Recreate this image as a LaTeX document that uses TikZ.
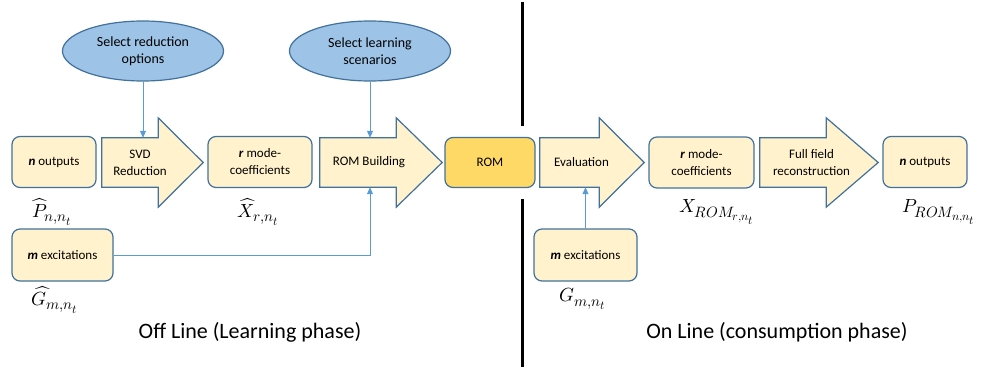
\documentclass[tikz,border=0pt]{standalone}
\usepackage{fontspec}
\usepackage{unicode-math}
\setmainfont{Carlito}
\setmathfont{Latin Modern Math}
\DeclareMathSizes{19}{19}{15}{12}
\usetikzlibrary{arrows.meta, calc, backgrounds, shapes.geometric}
\definecolor{boxfill}{RGB}{255,242,204}
\definecolor{boxline}{RGB}{65,113,156}
\definecolor{optfill}{RGB}{157,195,230}
\definecolor{romfill}{RGB}{255,217,102}
\definecolor{linkblue}{RGB}{91,155,213}
\newcommand{\bi}[1]{\textbf{\textit{#1}}}

\begin{document}
\begin{tikzpicture}[
    x=1pt, y=1pt,
    box/.style={draw=boxline, fill=boxfill, rounded corners=8pt, line width=1.2pt,
                minimum height=51pt, align=center, inner sep=1pt,
                font=\fontsize{13}{17}\selectfont},
    stage/.style={minimum height=49pt, align=center, inner sep=1pt,
                  font=\fontsize{13}{17}\selectfont},
    blockarrow/.style={draw=boxline, fill=boxfill, line width=1.2pt, line join=miter},
    option/.style={ellipse, draw=boxline, fill=optfill, line width=1.2pt,
                   minimum width=161pt, minimum height=60pt, align=center,
                   inner sep=0pt, font=\fontsize{14}{17}\selectfont},
    link/.style={-{Triangle[length=7pt, width=6pt]}, linkblue, line width=0.8pt},
    sym/.style={inner sep=0pt, font=\fontsize{19}{22}\selectfont},
    phase/.style={font=\fontsize{22}{26}\selectfont},
  ]
    \useasboundingbox (0,0) rectangle (983,368);

    % options
    \node[option] (selred) at (143,317) {Select reduction\\options};
    \node[option] (sellearn) at (370,317) {Select learning\\scenarios};

    % off line chain
    \node[box, minimum width=84pt] (outhat) at (54,206) {\bi{n} outputs};
    \node[stage, minimum width=76pt] (svd) at (140,205.5) {SVD\\Reduction};
    \node[box, minimum width=104pt] (modehat) at (260,206) {\bi{r} mode-\\coefficients};
    \node[stage, minimum width=98pt] (rombuild) at (369,205.5) {ROM Building};
    \node[box, fill=romfill, minimum width=90pt, minimum height=50pt] (rom) at (490,205.5) {ROM};

    % on line chain
    \node[stage, minimum width=83pt] (evaluation) at (581.5,205.5) {Evaluation};
    \node[box, minimum width=105pt] (moderom) at (701.5,205.5) {\bi{r} mode-\\coefficients};
    \node[stage, minimum width=103pt] (field) at (811.5,205.5) {Full field\\reconstruction};
    \node[box, minimum width=84pt] (outrom) at (925,206) {\bi{n} outputs};

    % excitations
    \node[box, minimum width=101pt, minimum height=52pt] (exchat) at (62.5,113) {\bi{m} excitations};
    \node[box, minimum width=103pt, minimum height=52pt] (excrom) at (585.5,113) {\bi{m} excitations};

    % block arrows behind the stage texts
    \begin{scope}[on background layer]
      \foreach \n/\into/\head in {svd/20/45, rombuild/22/46, evaluation/24/45, field/37/52}
        \draw[blockarrow] (\n.north west) -- ($(\n.north east)+(-\into,0)$) -- ++(0,20)
          -- ($(\n.east)+(\head-\into,0)$) -- ($(\n.south east)+(-\into,-20)$) -- ++(0,20)
          -- (\n.south west) -- cycle;
    \end{scope}

    % symbols
    \node[sym] (symP) at (52,156) {$\widehat{P}_{n,n_t}$};
    \node[sym] (symX) at (258,156) {$\widehat{X}_{r,n_t}$};
    \node[sym] (symG) at (55,68) {$\widehat{G}_{m,n_t}$};
    \node[sym] (symXrom) at (717,156) {$X_{ROM_{r,n_t}}$};
    \node[sym] (symProm) at (939,156) {$P_{ROM_{n,n_t}}$};
    \node[sym] (symGrom) at (583,69) {$G_{m,n_t}$};

    % links
    \draw[link] (selred.south) -- (selred.south |- svd.north);
    \draw[link] (sellearn.south) -- (sellearn.south |- rombuild.north);
    \draw[link] (exchat.east) -| (sellearn.south |- rombuild.south);
    \draw[link] (excrom.north) -- (excrom.north |- evaluation.south);

    % phases
    \draw[line width=3pt] (522,366) -- (522,242);
    \draw[line width=3pt] (522,169) -- (522,1);
    \node[phase] (offline) at (250,36) {Off Line (Learning phase)};
    \node[phase] (online) at (777,36) {On Line (consumption phase)};
  \end{tikzpicture}
\end{document}
